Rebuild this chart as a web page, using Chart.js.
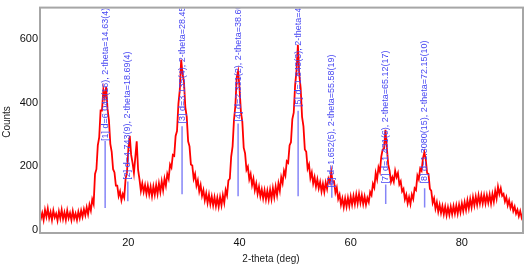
<!DOCTYPE html>
<html>
<head>
<meta charset="utf-8">
<script src="https://cdn.jsdelivr.net/npm/chart.js@4.4.0/dist/chart.umd.min.js"></script>
<style>
  html, body { margin: 0; padding: 0; background: #fff; }
  #wrap { width: 525px; height: 266px; }
</style>
</head>
<body>
<div id="wrap"><canvas id="xrdChart" width="525" height="266"></canvas></div>
<script>
// scan angles (deg) and counts, 0.25 deg apart
const twoTheta = [
  4,4.25,4.5,4.75,5,5.25,5.5,5.75,6,6.25,6.5,6.75,7,7.25,7.5,7.75,8,8.25,8.5,8.75,
  9,9.25,9.5,9.75,10,10.25,10.5,10.75,11,11.25,11.5,11.75,12,12.25,12.5,12.75,13,13.25,13.5,13.75,
  14,14.25,14.5,14.75,15,15.25,15.5,15.75,16,16.25,16.5,16.75,17,17.25,17.5,17.75,18,18.25,18.5,18.75,
  19,19.25,19.5,19.75,20,20.25,20.5,20.75,21,21.25,21.5,21.75,22,22.25,22.5,22.75,23,23.25,23.5,23.75,
  24,24.25,24.5,24.75,25,25.25,25.5,25.75,26,26.25,26.5,26.75,27,27.25,27.5,27.75,28,28.25,28.5,28.75,
  29,29.25,29.5,29.75,30,30.25,30.5,30.75,31,31.25,31.5,31.75,32,32.25,32.5,32.75,33,33.25,33.5,33.75,
  34,34.25,34.5,34.75,35,35.25,35.5,35.75,36,36.25,36.5,36.75,37,37.25,37.5,37.75,38,38.25,38.5,38.75,
  39,39.25,39.5,39.75,40,40.25,40.5,40.75,41,41.25,41.5,41.75,42,42.25,42.5,42.75,43,43.25,43.5,43.75,
  44,44.25,44.5,44.75,45,45.25,45.5,45.75,46,46.25,46.5,46.75,47,47.25,47.5,47.75,48,48.25,48.5,48.75,
  49,49.25,49.5,49.75,50,50.25,50.5,50.75,51,51.25,51.5,51.75,52,52.25,52.5,52.75,53,53.25,53.5,53.75,
  54,54.25,54.5,54.75,55,55.25,55.5,55.75,56,56.25,56.5,56.75,57,57.25,57.5,57.75,58,58.25,58.5,58.75,
  59,59.25,59.5,59.75,60,60.25,60.5,60.75,61,61.25,61.5,61.75,62,62.25,62.5,62.75,63,63.25,63.5,63.75,
  64,64.25,64.5,64.75,65,65.25,65.5,65.75,66,66.25,66.5,66.75,67,67.25,67.5,67.75,68,68.25,68.5,68.75,
  69,69.25,69.5,69.75,70,70.25,70.5,70.75,71,71.25,71.5,71.75,72,72.25,72.5,72.75,73,73.25,73.5,73.75,
  74,74.25,74.5,74.75,75,75.25,75.5,75.75,76,76.25,76.5,76.75,77,77.25,77.5,77.75,78,78.25,78.5,78.75,
  79,79.25,79.5,79.75,80,80.25,80.5,80.75,81,81.25,81.5,81.75,82,82.25,82.5,82.75,83,83.25,83.5,83.75,
  84,84.25,84.5,84.75,85,85.25,85.5,85.75,86,86.25,86.5,86.75,87,87.25,87.5,87.75,88,88.25,88.5,88.75,
  89,89.25,89.5,89.75,90,90.25,90.5,90.75,91
];
const counts = [
  58,34,52,30,62,40,66,36,55,30,60,38,50,28,57,35,62,33,54,30,
  60,36,52,30,58,34,50,30,56,36,60,40,64,45,70,48,78,60,95,80,
  175,190,265,290,375,375,440,415,449,380,345,270,245,190,180,138,138,105,120,92,
  112,100,160,180,255,295,235,210,178,228,278,188,158,122,145,118,140,112,138,110,
  135,105,136,110,140,112,145,118,152,124,160,138,175,160,205,195,235,232,295,310,
  395,440,535,490,465,385,355,278,262,205,202,160,175,138,155,120,140,106,124,92,
  114,84,110,80,104,76,102,74,100,72,102,76,108,84,124,108,155,160,230,262,
  345,390,480,499,445,370,340,258,240,188,198,158,175,140,160,124,145,112,135,104,
  126,98,124,95,122,94,125,96,130,102,135,108,145,122,165,146,185,170,215,210,
  265,275,348,368,455,500,582,488,445,355,325,252,245,192,205,162,180,145,165,135,
  158,130,150,120,144,118,148,128,160,148,182,150,152,116,132,96,110,78,98,70,
  98,72,100,74,104,78,106,80,110,82,112,84,108,80,104,78,100,86,118,108,
  144,132,178,158,196,182,230,252,255,314,258,205,185,150,165,150,185,165,178,142,
  152,120,128,95,110,82,102,80,110,96,130,124,170,158,192,185,224,243,222,178,
  175,128,122,84,98,66,86,56,78,52,74,48,72,45,70,46,72,48,74,50,
  76,50,78,54,82,58,86,62,92,66,96,70,102,76,104,78,108,82,108,82,
  108,82,108,84,110,82,112,88,122,98,135,112,130,106,112,88,102,76,92,68,
  82,58,72,50,62,42,58,38,52
];

// peak markers
const peakAngles = [15.82, 19.9, 29.66, 39.74, 50.54, 56.6, 66.3, 73.3];
const peakTop = [279, 151, 325, 334, 374, 161, 142, 130];
const peakBottom = [68, 89, 111, 105, 105, 100, 80, 69];
const labelBase = [279, 157, 334, 340, 386, 132, 145, 145];
const peakLabels = [
  '[1] d=6.048(16), 2-theta=14.63(4)',
  '[2] d=4.743(9), 2-theta=18.69(4)',
  '[3] d=3.135(4), 2-theta=28.45(4)',
  '[4] d=2.331(2), 2-theta=38.60(4)',
  '[5] d=1.848(3), 2-theta=49.26(4)',
  '[6] d=1.652(5), 2-theta=55.58(19)',
  '[7] d=1.431(6), 2-theta=65.12(17)',
  '[8] d=1.3080(15), 2-theta=72.15(10)'
];

const xTicks = [20, 40, 60, 80];
const yTicks = [0, 200, 400, 600];
const xTitle = '2-theta (deg)';
const yTitle = 'Counts';

const FONT = 'Arial, "Liberation Sans", sans-serif';

const patternData = twoTheta.map((t, i) => ({x: t, y: counts[i]}));

const markerData = [];
peakAngles.forEach((a, i) => {
    markerData.push({x: a, y: peakBottom[i]});
    markerData.push({x: a, y: peakTop[i]});
    markerData.push({x: a, y: null});
});

// rotated peak annotations, clipped to the plot frame
const peakTextPlugin = {
    id: 'peakText',
    afterDatasetsDraw(chart) {
        const {ctx, chartArea, scales} = chart;
        ctx.save();
        ctx.beginPath();
        ctx.rect(chartArea.left, chartArea.top, chartArea.width, chartArea.height);
        ctx.clip();
        ctx.fillStyle = '#4848f2';
        ctx.font = '9px ' + FONT;
        ctx.textAlign = 'left';
        ctx.textBaseline = 'middle';
        peakLabels.forEach((txt, i) => {
            const px = scales.x.getPixelForValue(peakAngles[i]);
            const py = scales.y.getPixelForValue(labelBase[i]);
            ctx.save();
            ctx.translate(px, py);
            ctx.rotate(-Math.PI / 2);
            ctx.fillText(txt, 0, 0);
            ctx.restore();
        });
        ctx.restore();
    },
    afterDraw(chart) {
        const {ctx, chartArea} = chart;
        ctx.save();
        // frame
        ctx.strokeStyle = '#a6a6a6';
        ctx.lineWidth = 2;
        ctx.strokeRect(chartArea.left, chartArea.top - 1, chartArea.width, chartArea.height + 1);
        // axis titles
        ctx.fillStyle = '#222';
        ctx.font = '10px ' + FONT;
        ctx.textAlign = 'center';
        ctx.textBaseline = 'middle';
        ctx.fillText(xTitle, 271, 259);
        ctx.translate(7, 122);
        ctx.rotate(-Math.PI / 2);
        ctx.fillText(yTitle, 0, 0);
        ctx.restore();
    }
};

new Chart(document.getElementById('xrdChart'), {
    type: 'line',
    data: {
        datasets: [{
            label: 'peaks',
            data: markerData,
            borderColor: '#8585f7',
            borderWidth: 1.5,
            pointRadius: 0,
            spanGaps: false
        }, {
            label: 'pattern',
            data: patternData,
            borderColor: '#ff0000',
            borderWidth: 1.8,
            pointRadius: 0,
            tension: 0
        }]
    },
    options: {
        responsive: false,
        animation: false,
        devicePixelRatio: 1,
        layout: {
            padding: {top: 2, right: 2, left: 0, bottom: 0}
        },
        plugins: {
            legend: {display: false},
            tooltip: {enabled: false}
        },
        scales: {
            x: {
                type: 'linear',
                min: 4.1,
                max: 91,
                grid: {display: false, drawTicks: false},
                border: {display: false},
                ticks: {
                    font: {family: FONT, size: 11},
                    color: '#111',
                    padding: 3,
                    maxRotation: 0
                },
                afterBuildTicks: scale => { scale.ticks = xTicks.map(v => ({value: v})); },
                afterFit: scale => { scale.height = 33; }
            },
            y: {
                type: 'linear',
                min: -11,
                max: 696,
                grid: {display: false, drawTicks: false},
                border: {display: false},
                ticks: {
                    font: {family: FONT, size: 11},
                    color: '#111',
                    padding: 2
                },
                afterBuildTicks: scale => { scale.ticks = yTicks.map(v => ({value: v})); },
                afterFit: scale => { scale.width = 40; }
            }
        }
    },
    plugins: [peakTextPlugin]
});
</script>
</body>
</html>
